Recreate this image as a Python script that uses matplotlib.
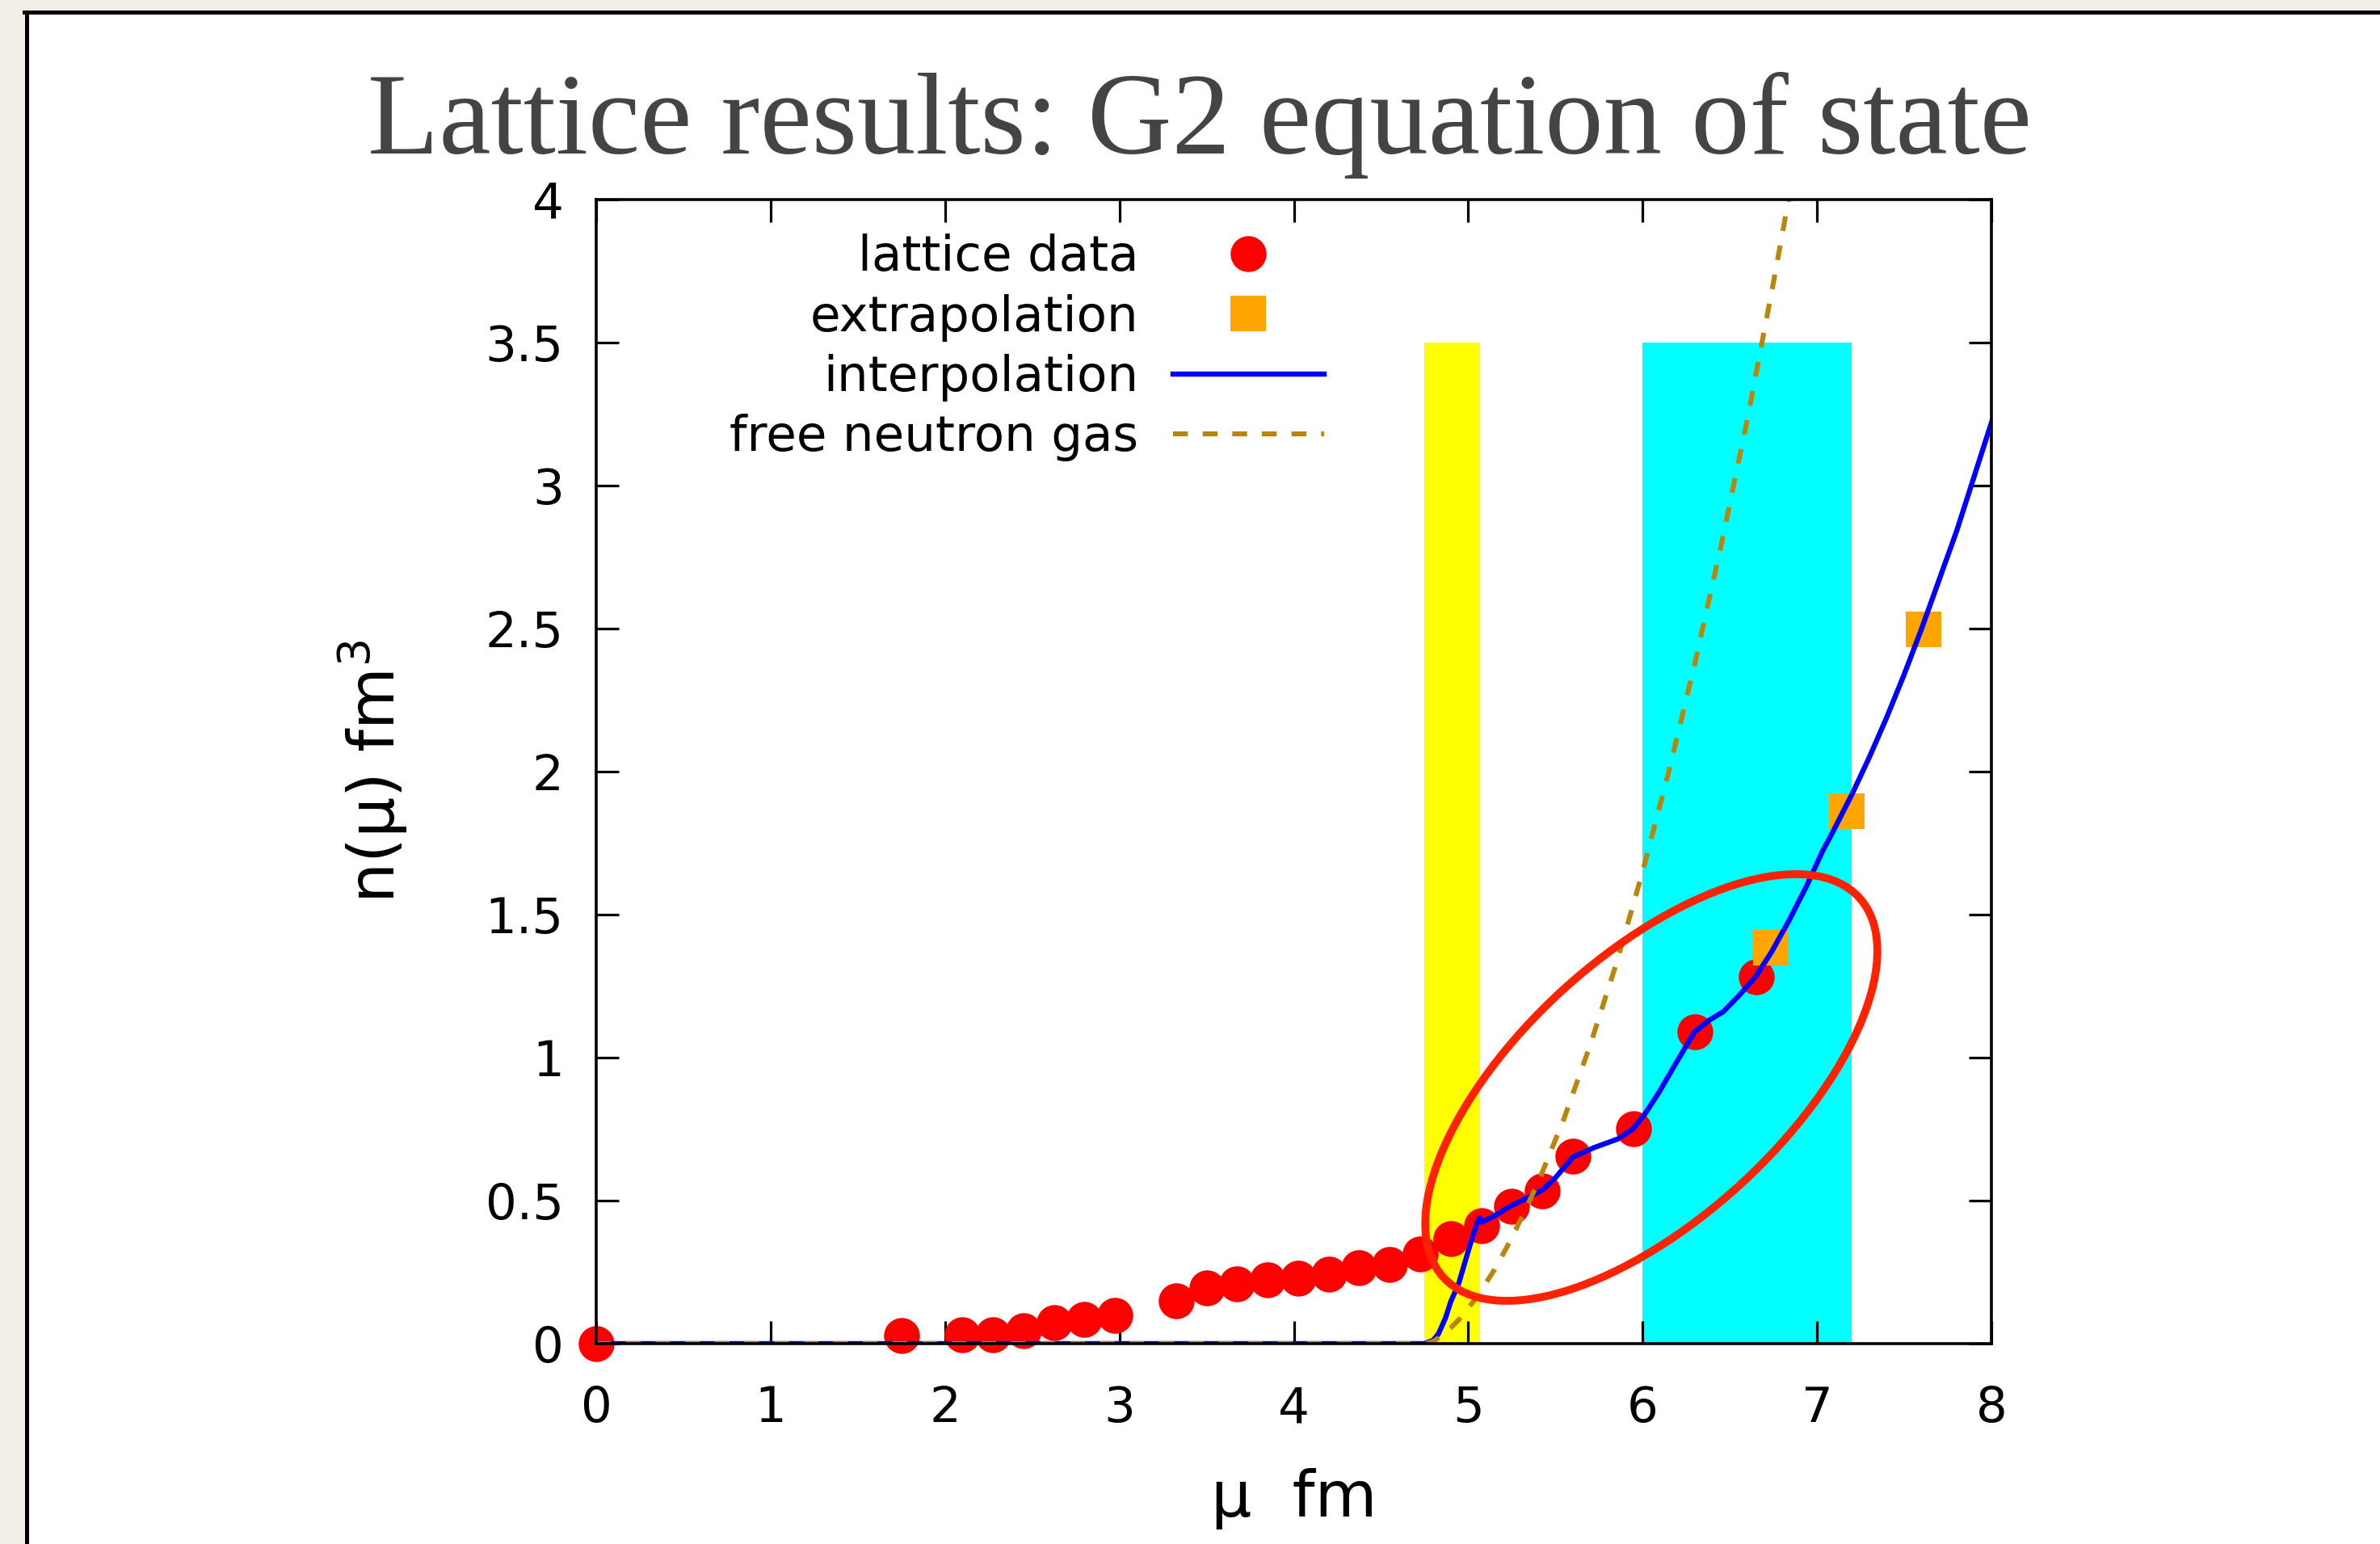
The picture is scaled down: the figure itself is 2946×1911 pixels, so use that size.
import matplotlib
matplotlib.use("Agg")
import matplotlib.pyplot as plt
from matplotlib.patches import Ellipse, Rectangle
from matplotlib.lines import Line2D
from matplotlib.ticker import FuncFormatter, MultipleLocator

plt.rcParams["font.family"] = ["DejaVu Sans"]
plt.rcParams["mathtext.fontset"] = "dejavusans"

# lattice data (mu in fm^-1, n in fm^-3)
lattice_mu = [0.0, 1.75, 2.10, 2.275, 2.45, 2.625, 2.80, 2.975, 3.325, 3.50,
              3.675, 3.85, 4.025, 4.20, 4.375, 4.55, 4.725, 4.90, 5.075, 5.25,
              5.425, 5.60, 5.95, 6.30, 6.65]
lattice_n = [0.0, 0.028, 0.030, 0.032, 0.046, 0.074, 0.084, 0.10, 0.15, 0.195,
             0.208, 0.223, 0.228, 0.244, 0.265, 0.276, 0.314, 0.367, 0.413, 0.48,
             0.534, 0.655, 0.752, 1.09, 1.283]

# extrapolated points
extrap_mu = [6.735, 7.172, 7.61]
extrap_n = [1.384, 1.862, 2.497]

# interpolation curve
interp_mu = [0.0, 4.75, 4.80, 4.83, 4.87, 4.90, 4.945, 5.01, 5.056, 5.068,
             5.08, 5.16, 5.243, 5.35, 5.43, 5.50, 5.60, 5.72, 5.86, 5.947,
             6.01, 6.093, 6.20, 6.298, 6.38, 6.463, 6.554, 6.648, 6.74, 6.84,
             6.94, 7.03, 7.10, 7.20, 7.30, 7.40, 7.50, 7.60, 7.70, 7.80,
             7.90, 8.0]
interp_n = [0.0, 0.0, 0.012, 0.035, 0.09, 0.147, 0.209, 0.344, 0.43, 0.44,
            0.425, 0.45, 0.481, 0.513, 0.539, 0.58, 0.652, 0.685, 0.716, 0.752,
            0.80, 0.878, 0.99, 1.09, 1.13, 1.161, 1.218, 1.283, 1.37, 1.48,
            1.60, 1.72, 1.80, 1.92, 2.05, 2.19, 2.34, 2.50, 2.67, 2.84,
            3.03, 3.22]

# free neutron gas
gas_mu = [0.0, 4.76, 4.80, 4.85, 4.90, 4.95, 5.05, 5.15, 5.25, 5.40, 5.55,
          5.70, 5.85, 6.00, 6.15, 6.30, 6.45, 6.60, 6.75, 6.90]
gas_n = [0.0, 0.0, 0.008, 0.028, 0.055, 0.086, 0.163, 0.258, 0.369, 0.562,
         0.788, 1.045, 1.33, 1.65, 2.0, 2.38, 2.79, 3.23, 3.71, 4.21]

# shaded regions
yellow_band = (4.75, 5.07)
cyan_band = (6.0, 7.2)
band_top = 3.5

W, H = 2946, 1911
fig = plt.figure(figsize=(W / 100, H / 100), dpi=100, facecolor="#f2efe9")

# slide area with black border on left and top
fig.add_artist(Rectangle((35 / W, 0), 1, 1 - 17 / H, transform=fig.transFigure,
                         facecolor="white", edgecolor="none", zorder=0))
fig.add_artist(Line2D([32.5 / W, 32.5 / W], [0, 1 - 14.5 / H], transform=fig.transFigure,
                      color="black", lw=3.6, zorder=1))
fig.add_artist(Line2D([30 / W, 1], [1 - 14.5 / H, 1 - 14.5 / H], transform=fig.transFigure,
                      color="black", lw=3.6, zorder=1))

title = fig.text(1485 / W, 1 - 190 / H, "Lattice results: G2 equation of state",
                 family="Liberation Serif", color="#444444", fontsize=100,
                 ha="center", va="baseline")

ax = fig.add_axes([738 / W, 1 - 1663 / H, (2465 - 738) / W, (1663 - 247) / H])
ax.set_facecolor("white")

ax.fill_between(yellow_band, 0, band_top, color="#ffff00", lw=0, zorder=1)
ax.fill_between(cyan_band, 0, band_top, color="#00ffff", lw=0, zorder=1)

ax.plot(lattice_mu, lattice_n, "o", color="#ff0000", ms=32, mew=0,
        label="lattice data", zorder=2, clip_on=False)
ax.plot(extrap_mu, extrap_n, "s", color="#ffa500", ms=32, mew=0,
        label="extrapolation", zorder=2)
ax.plot(interp_mu, interp_n, "-", color="#0000ff", lw=4.6,
        label="interpolation", zorder=3)
ax.plot(gas_mu, gas_n, "--", color="#b8860b", lw=4.4, dashes=(3.0, 3.0),
        label="free neutron gas", zorder=4)

ax.set_xlim(0, 8)
ax.set_ylim(0, 4)
ax.xaxis.set_major_locator(MultipleLocator(1))
ax.yaxis.set_major_locator(MultipleLocator(0.5))
ax.yaxis.set_major_formatter(FuncFormatter(lambda v, p: "%g" % v))
ax.tick_params(direction="in", top=True, right=True, length=20, width=2.3,
               labelsize=44)
ax.tick_params(axis="x", pad=37)
ax.tick_params(axis="y", pad=29)
for s in ax.spines.values():
    s.set_linewidth(2.6)
    s.set_zorder(5)

ax.set_xlabel("\u03bc  fm", fontsize=57)
ax.xaxis.set_label_coords(0.5, -0.151)
ax.xaxis.label.set_va("baseline")
ax.set_ylabel("n(\u03bc) fm$^3$", fontsize=57)
ax.yaxis.set_label_coords(-0.134, 0.5)

ax.legend(loc="upper right", bbox_to_anchor=(0.5215, 0.970), frameon=False,
          markerfirst=False, fontsize=44, handlelength=3.05, handletextpad=0.7,
          labelspacing=0.25, borderpad=0, borderaxespad=0, numpoints=1)

# hand-drawn red ellipse annotation (in inches on the slide)
fig.add_artist(Ellipse((2044 / 100, (H - 1346) / 100), 6.97, 3.26, angle=42.4,
                       transform=fig.dpi_scale_trans, fill=False,
                       edgecolor="#ff2200", lw=7, zorder=10))

# fit title width to the slide heading
fig.canvas.draw()
bb = title.get_window_extent()
title.set_fontsize(100 * 2060 / bb.width)

fig.savefig("out.png", dpi=100, facecolor=fig.get_facecolor())
